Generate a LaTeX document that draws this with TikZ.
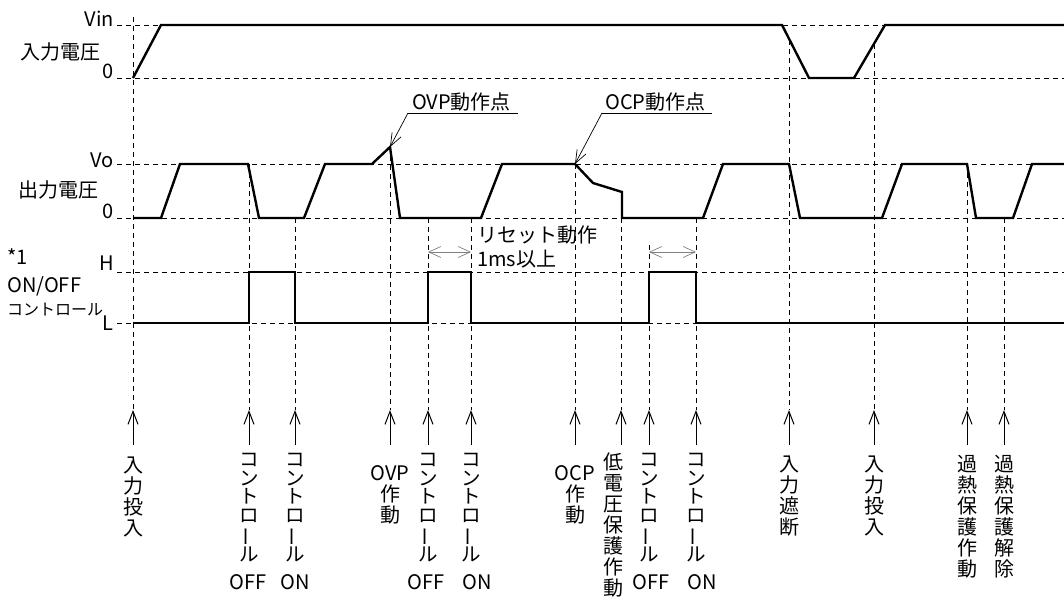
\documentclass[tikz,border=0pt]{standalone}
\usepackage{fontspec}
\setmainfont{Noto Sans CJK JP}
\usetikzlibrary{positioning,arrows.meta,calc}
\newcommand{\chouon}{\rotatebox[origin=c]{90}{ー}}

\begin{document}
\begin{tikzpicture}[
  x=1pt, y=-1pt,
  node distance=8pt,
  font=\fontsize{20}{21}\selectfont,
  every node/.style={inner sep=0pt, align=center},
  guide/.style={line width=0.9pt, dash pattern=on 5pt off 4pt},
  wave/.style={line width=2.4pt, line join=miter},
  evarrow/.style={-{Straight Barb[length=13pt, width=10pt]}, line width=1pt},
  leader/.style={-{Straight Barb[length=13pt, width=10pt]}, line width=0.7pt},
  resetspan/.style={{Straight Barb[length=12pt, width=11pt]}-{Straight Barb[length=12pt, width=11pt]},
                    line width=0.7pt, draw=gray},
  lvlabel/.style={anchor=base east},
  vlabel/.style={anchor=north},
  kana/.style={anchor=north, font=\fontsize{19.5}{18.5}\selectfont},
  onoff/.style={anchor=base},
]
\useasboundingbox (0,0) rectangle (1064,601);

% ===== level lines and labels =====
\foreach \y in {25,78,164,218,272,323}
  \draw[guide] (117,\y) -- (1064,\y);

\node[lvlabel] (vin)  at (114,27)  {Vin};
\node[lvlabel] (vin0) at (114,79)  {0};
\node[lvlabel] (vo)   at (114,168) {Vo};
\node[lvlabel] (vo0)  at (114,219) {0};
\node[lvlabel] (hi)   at (114,271) {H};
\node[lvlabel] (lo)   at (114,330) {L};

\node (inlab)  at (60,52)  {入力電圧};
\node (outlab) at (58,190) {出力電圧};
\node[anchor=base west] (note) at (7,265) {*1};
\node[anchor=base west] (ctl1) at (7,292) {ON/OFF};
\node[anchor=base west, font=\fontsize{16}{18}\selectfont] (ctl2) at (7,315) {コントロール};

% ===== event markers =====
\foreach \n/\x/\top in {1/133/17, 2/249/164, 3/295/218, 4/390/147, 5/428/218,
                        6/471/218, 7/575/164, 8/621/218, 9/649/245, 10/696/218,
                        11/789/40, 12/874/44, 13/967/164, 14/1004/218} {
  \coordinate (tp\n) at (\x,\top);
  \coordinate (ev\n) at (\x,410);
  \coordinate (bt\n) at (\x,445);
  \draw[guide] (tp\n) -- (ev\n);
  \draw[evarrow] (bt\n) -- (ev\n);
}

% ===== waveforms =====
\draw[wave] (133,78) -- (161,25) -- (782,25) -- (809,78) -- (854,78) -- (885,25) -- (1064,25);

\draw[wave] (133,218) -- (161,218) -- (180,164) -- (248,164) -- (259,218) -- (304,218)
  -- (325,164) -- (372,164) -- (390,147) -- (400,218) -- (481,218) -- (502,164)
  -- (575,164) -- (593,183) -- (622,192) -- (622,218) -- (703,218) -- (723,164)
  -- (789,164) -- (800,218) -- (882,218) -- (902,164) -- (967,164) -- (976,218)
  -- (1013,218) -- (1032,164) -- (1064,164);

\draw[wave] (133,323) -- (249,323) -- (249,272) -- (295,272) -- (295,323) -- (428,323)
  -- (428,272) -- (471,272) -- (471,323) -- (649,323) -- (649,272) -- (696,272)
  -- (696,323) -- (1064,323);

% ===== OVP / OCP points =====
\node[anchor=base west] (ovp) at (412,110) {OVP動作点};
\coordinate (ovpu) at (408,113);
\coordinate (ovpe) at (518,113);
\coordinate (ovppk) at (390,147);
\draw[line width=0.7pt] (ovpu) -- (ovpe);
\draw[leader] (ovpu) -- (ovppk);

\node[anchor=base west] (ocp) at (605,110) {OCP動作点};
\coordinate (ocpu) at (602,113);
\coordinate (ocpe) at (712,113);
\coordinate (ocppk) at (575,164);
\draw[line width=0.7pt] (ocpu) -- (ocpe);
\draw[leader] (ocpu) -- (ocppk);

% ===== reset =====
\node[anchor=base west] (rst1) at (477,243) {リセット動作};
\node[anchor=base west] (rst2) at (477,267) {1ms以上};
\coordinate (rrow) at (0,252);
\draw[resetspan] (ev5 |- rrow) -- (ev6 |- rrow);
\draw[resetspan] (ev9 |- rrow) -- (ev10 |- rrow);

% ===== event labels =====
\node[vlabel, below=12pt of bt1] (l1) {入\\力\\投\\入};
\node[kana, below=8pt of bt2] (l2) {コ\\ン\\ト\\ロ\\\chouon\\ル};
\node[kana, below=8pt of bt3] (l3) {コ\\ン\\ト\\ロ\\\chouon\\ル};
\node[vlabel, below=20pt of bt4] (l4) {OVP\\作\\動};
\node[kana, below=8pt of bt5] (l5) {コ\\ン\\ト\\ロ\\\chouon\\ル};
\node[kana, below=8pt of bt6] (l6) {コ\\ン\\ト\\ロ\\\chouon\\ル};
\node[vlabel, below=20pt of bt7] (l7) {OCP\\作\\動};
\node[vlabel, below=8pt of bt8, xshift=-8pt] (l8) {低\\電\\圧\\保\\護\\作\\動};
\node[kana, below=8pt of bt9] (l9) {コ\\ン\\ト\\ロ\\\chouon\\ル};
\node[kana, below=8pt of bt10] (l10) {コ\\ン\\ト\\ロ\\\chouon\\ル};
\node[vlabel, below=11pt of bt11] (l11) {入\\力\\遮\\断};
\node[vlabel, below=11pt of bt12] (l12) {入\\力\\投\\入};
\node[vlabel, below=10pt of bt13] (l13) {過\\熱\\保\\護\\作\\動};
\node[vlabel, below=10pt of bt14] (l14) {過\\熱\\保\\護\\解\\除};

\coordinate (onrow) at (0,589);
\node[onoff] (off2) at ([xshift=-1pt]ev2 |- onrow) {OFF};
\node[onoff] (on3)  at (ev3 |- onrow) {ON};
\node[onoff] (off5) at ([xshift=-2pt]ev5 |- onrow) {OFF};
\node[onoff] (on6)  at ([xshift=6pt]ev6 |- onrow) {ON};
\node[onoff] (off9) at ([xshift=2pt]ev9 |- onrow) {OFF};
\node[onoff] (on10) at ([xshift=6pt]ev10 |- onrow) {ON};
\end{tikzpicture}
\end{document}
